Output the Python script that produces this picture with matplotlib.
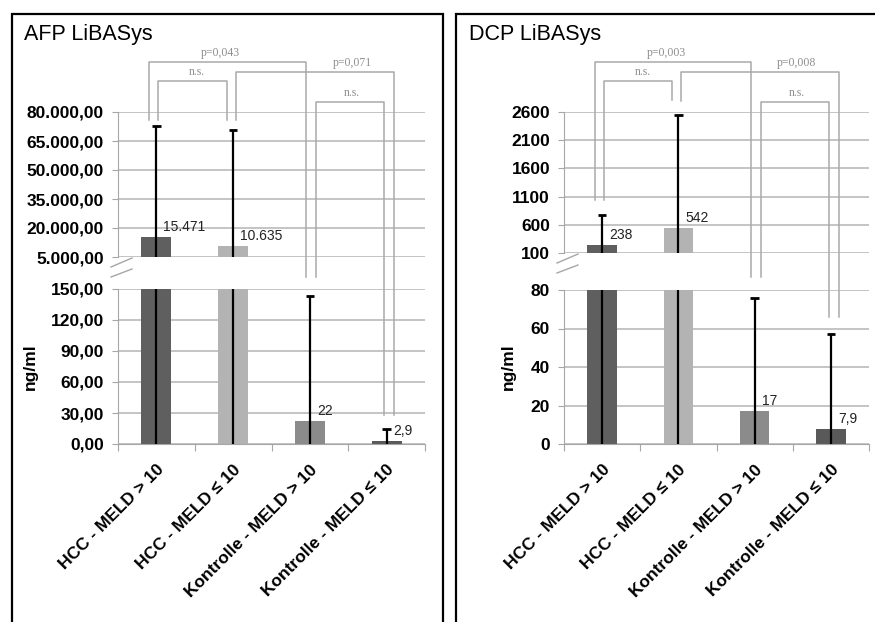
import numpy as np
import matplotlib
matplotlib.use('Agg')
import matplotlib.pyplot as plt
from matplotlib.ticker import FuncFormatter
from matplotlib.transforms import blended_transform_factory
from matplotlib.patches import Rectangle
from matplotlib.lines import Line2D

plt.rcParams['font.family'] = ['Liberation Sans', 'DejaVu Sans']

groups = ['HCC - MELD > 10', 'HCC - MELD \u2264 10',
          'Kontrolle - MELD > 10', 'Kontrolle - MELD \u2264 10']
bar_colors = ['#5f5f5f', '#b3b3b3', '#8b8b8b', '#595959']

afp_mean = [15471, 10635, 22, 2.9]
afp_err_top = [72700, 70700, 143, 14.5]
afp_labels = ['15.471', '10.635', '22', '2,9']
afp_pvals = ['p=0,043', 'n.s.', 'p=0,071', 'n.s.']

dcp_mean = [238, 542, 17, 7.9]
dcp_err_top = [770, 2550, 75.8, 57.4]
dcp_labels = ['238', '542', '17', '7,9']
dcp_pvals = ['p=0,003', 'n.s.', 'p=0,008', 'n.s.']

# comparison pairs (group indices)
pairs = [(0, 2), (0, 1), (1, 3), (2, 3)]

# layout of the brackets (pixel rows / offsets in category units)
bracket_dx = [(-0.10, -0.05), (0.02, -0.08), (0.04, 0.10), (0.08, -0.03)]
bracket_label_x = [0.84, 0.53, 2.55, 2.55]
bracket_top_px = [62, 81, 72, 102]
afp_legs_px = [(120, 277), (120, 120), (120, 415), (277, 415)]
dcp_legs_px = [(200, 277), (200, 100), (101, 317), (277, 317)]

W, H = 875, 622


def fx(px):
    return px / W


def fy(py):
    return 1 - py / H


def german2(v, pos=None):
    s = f'{v:,.2f}'
    return s.replace(',', 'X').replace('.', ',').replace('X', '.')


def plain(v, pos=None):
    return f'{v:.0f}'


GRID = '#b4b4b4'
AXC = '#a6a6a6'

fig = plt.figure(figsize=(W / 100, H / 100), dpi=100)

panels = [
    dict(title='AFP LiBASys', mean=afp_mean, top=afp_err_top, labels=afp_labels,
         pvals=afp_pvals, legs=afp_legs_px, upper=(5000, 80000, 15000),
         lower=(0, 150, 30), fmt=german2, box=(12, 443), axx=(118, 425),
         upy=(112, 257), loy=(289, 444), title_x=24, ylab_x=30),
    dict(title='DCP LiBASys', mean=dcp_mean, top=dcp_err_top, labels=dcp_labels,
         pvals=dcp_pvals, legs=dcp_legs_px, upper=(100, 2600, 500),
         lower=(0, 80, 20), fmt=plain, box=(456, 890), axx=(564, 869),
         upy=(112, 253), loy=(290, 444), title_x=469, ylab_x=508),
]


def draw_part(ax, p, lim):
    lo, hi, step = lim
    x = np.arange(len(groups))
    ax.bar(x, p['mean'], width=0.39, color=bar_colors, zorder=2)
    ax.vlines(x, 0, p['top'], colors='black', lw=1.6, zorder=3)
    ax.hlines(p['top'], x - 0.055, x + 0.055, colors='black', lw=2.0, zorder=3)
    ax.set_xlim(-0.5, 3.5)
    ax.set_ylim(lo, hi)
    ax.set_yticks(np.arange(lo, hi + step / 2, step))
    ax.yaxis.set_major_formatter(FuncFormatter(p['fmt']))
    ax.grid(axis='y', color=GRID, lw=1.1)
    ax.set_axisbelow(True)
    ax.tick_params(axis='y', labelsize=12.5, length=4, color=AXC, pad=6)
    for t in ax.get_yticklabels():
        t.set_fontweight('bold')
    for s in ['top', 'right']:
        ax.spines[s].set_visible(False)
    ax.spines['left'].set_color(AXC)
    ax.spines['bottom'].set_color(AXC)
    for xi, m, lab in zip(x, p['mean'], p['labels']):
        if lo <= m < hi:
            ax.annotate(lab, (xi, m), xytext=(5, 4.5), textcoords='offset points',
                        ha='left', va='baseline', fontsize=10, color='#222222')


for p in panels:
    x0, x1 = p['axx']
    ax_up = fig.add_axes([fx(x0), fy(p['upy'][1]), (x1 - x0) / W,
                          (p['upy'][1] - p['upy'][0]) / H])
    ax_lo = fig.add_axes([fx(x0), fy(p['loy'][1]), (x1 - x0) / W,
                          (p['loy'][1] - p['loy'][0]) / H])
    draw_part(ax_up, p, p['upper'])
    draw_part(ax_lo, p, p['lower'])
    ax_up.spines['bottom'].set_visible(False)
    ax_up.set_xticks([])

    ax_lo.set_xticks(np.arange(-0.5, 4, 1))
    ax_lo.set_xticklabels([])
    ax_lo.tick_params(axis='x', which='major', length=5, color=AXC)
    ax_lo.set_xticks(np.arange(len(groups)), groups, minor=True, rotation=45,
                     ha='right', rotation_mode='anchor', fontweight='bold',
                     fontsize=12.5)
    ax_lo.tick_params(axis='x', which='minor', length=0, pad=13)

    # panel frame
    bx0, bx1 = p['box']
    fig.add_artist(Rectangle((fx(bx0), fy(700)), (bx1 - bx0) / W, (700 - 14) / H,
                             transform=fig.transFigure, fill=False,
                             edgecolor='black', lw=1.6))
    fig.text(fx(p['title_x']), fy(40), p['title'], fontsize=15.5, va='baseline')
    fig.text(fx(p['ylab_x']), fy(367), 'ng/ml', rotation=90, ha='center',
             va='center', fontsize=12.5, fontweight='bold')

    # axis break marks
    ub = p['upy'][1]
    for d0, d1 in [(10, 1), (20, 12)]:
        fig.add_artist(Line2D([fx(x0 - 7), fx(x0 + 14)], [fy(ub + d0), fy(ub + d1)],
                              transform=fig.transFigure, color=AXC, lw=1.0))

    # significance brackets
    tr = blended_transform_factory(ax_lo.transData, fig.transFigure)
    for (i, j), (dl, dr), lx, ytop, (yl, yr), lab in zip(
            pairs, bracket_dx, bracket_label_x, bracket_top_px, p['legs'], p['pvals']):
        xl, xr = i + dl, j + dr
        fig.add_artist(Line2D([xl, xl, xr, xr], [fy(yl), fy(ytop), fy(ytop), fy(yr)],
                              transform=tr, color='#a9a9a9', lw=1.1))
        fig.text(lx, fy(ytop - 3), lab, transform=tr, ha='center',
                 va='bottom', family=['Liberation Serif', 'DejaVu Serif'],
                 fontsize=8.5, color='#8e8e8e')

fig.savefig('out.png', dpi=100)
